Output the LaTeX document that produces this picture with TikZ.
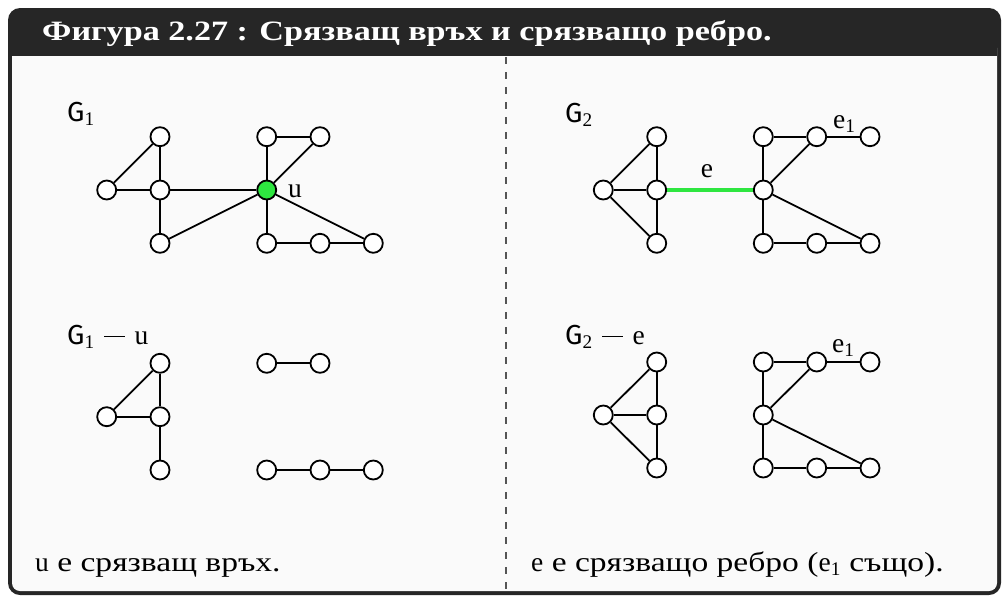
\documentclass[tikz,border=0pt]{standalone}
\usepackage{fontspec}
\setmainfont{Liberation Serif}[FakeStretch=1.22]
\newfontfamily\gfont{Fira Sans}
\newfontfamily\mfont{Liberation Serif}
\newcommand\vG{{\gfont G}}
\newcommand\vu{{\mfont u}}
\newcommand\ve{{\mfont e}}
\newcommand\vsub[1]{\textsubscript{\mfont #1}}
\newcommand\vminus{\hspace{0.35em}\rule[0.26em]{0.75em}{0.045em}\hspace{0.35em}}
\definecolor{framedark}{HTML}{262626}
\definecolor{bodybg}{HTML}{FAFAFA}
\definecolor{gn}{HTML}{2EE640}
\definecolor{divgray}{HTML}{555555}
\tikzset{
  vtx/.style={circle,draw=black,line width=1.8pt,fill=white,minimum size=19pt,inner sep=0pt},
  hot/.style={vtx,fill=gn},
  edge/.style={line width=1.8pt,black},
  hotedge/.style={line width=4.5pt,gn},
  lbl/.style={anchor=base west,inner sep=0pt,font=\fontsize{27.5}{32}\selectfont},
  caption/.style={anchor=base west,inner sep=0pt,font=\fontsize{27.5}{32}\selectfont},
  titletext/.style={anchor=base west,inner sep=0pt,text=white,font=\fontsize{28}{32}\selectfont\bfseries},
  divider/.style={divgray,line width=1.2pt,dash pattern=on 7pt off 8pt}
}
\begin{document}
\begin{tikzpicture}[x=1pt,y=-1pt]
\useasboundingbox (0,0) rectangle (1003,597);
% frame
\fill[framedark,rounded corners=12pt] (8,8) rectangle (1001,595);
\fill[bodybg,rounded corners=8pt] (12,40) rectangle (997,591);
\fill[framedark] (12,30) rectangle (997,56);
\node[titletext] (title) at (42,40) {Фигура 2.27 : Срязващ връх и срязващо ребро.};
\coordinate (divtop) at (506,57);
\coordinate (divbot) at (506,592);
\draw[divider] (divtop) -- (divbot);

% ---------- G1 ----------
\node[lbl] (g1lbl) at (67,121) {\vG\vsub{1}};
\node[vtx] (a1) at (160,136.7) {};
\node[vtx] (b1) at (106.7,190) {};
\node[vtx] (c1) at (160,190) {};
\node[vtx] (d1) at (160,243.3) {};
\node[hot] (u) at (266.7,190) {};
\node[vtx] (t1) at (266.7,136.7) {};
\node[vtx] (t2) at (320,136.7) {};
\node[vtx] (s1) at (266.7,243.3) {};
\node[vtx] (s2) at (320,243.3) {};
\node[vtx] (s3) at (373.3,243.3) {};
\node[lbl] (ulbl) at (288,197) {\vu};
\foreach \x/\y in {b1/a1,a1/c1,b1/c1,c1/d1,c1/u,d1/u,u/t1,t1/t2,u/t2,u/s1,s1/s2,s2/s3,u/s3}
  \draw[edge] (\x) -- (\y);

% ---------- G2 ----------
\node[lbl] (g2lbl) at (565,122) {\vG\vsub{2}};
\node[vtx] (p) at (603.3,190) {};
\node[vtx] (q) at (656.7,136.7) {};
\node[vtx] (r) at (656.7,190) {};
\node[vtx] (w) at (656.7,243.3) {};
\node[vtx] (h) at (763.3,190) {};
\node[vtx] (h1) at (763.3,136.7) {};
\node[vtx] (h2) at (816.7,136.7) {};
\node[vtx] (h3) at (870,136.7) {};
\node[vtx] (k1) at (763.3,243.3) {};
\node[vtx] (k2) at (816.7,243.3) {};
\node[vtx] (k3) at (870,243.3) {};
\draw[hotedge] (r) -- (h);
\node[lbl,anchor=base] (elbl) at (707,177) {\ve};
\node[lbl] (e1lbl) at (833,128) {\ve\vsub{1}};
\foreach \x/\y in {p/q,p/r,p/w,q/r,r/w,h/h1,h1/h2,h/h2,h2/h3,h/k1,k1/k2,k2/k3,h/k3}
  \draw[edge] (\x) -- (\y);

% ---------- G1 - u ----------
\node[lbl] (g1ulbl) at (67,344) {\vG\vsub{1}\vminus\vu};
\node[vtx] (a) at (160,363.3) {};
\node[vtx] (b) at (106.7,416.7) {};
\node[vtx] (c) at (160,416.7) {};
\node[vtx] (d) at (160,470) {};
\node[vtx] (m1) at (266.7,363.3) {};
\node[vtx] (m2) at (320,363.3) {};
\node[vtx] (n1) at (266.7,470) {};
\node[vtx] (n2) at (320,470) {};
\node[vtx] (n3) at (373.3,470) {};
\foreach \x/\y in {b/a,a/c,b/c,c/d,m1/m2,n1/n2,n2/n3}
  \draw[edge] (\x) -- (\y);

% ---------- G2 - e ----------
\node[lbl] (g2elbl) at (565,344) {\vG\vsub{2}\vminus\ve};
\node[vtx] (pp) at (603.3,415) {};
\node[vtx] (qq) at (656.7,362) {};
\node[vtx] (rr) at (656.7,415) {};
\node[vtx] (ww) at (656.7,468) {};
\node[vtx] (hh) at (763.3,415) {};
\node[vtx] (hh1) at (763.3,362) {};
\node[vtx] (hh2) at (816.7,362) {};
\node[vtx] (hh3) at (870,362) {};
\node[vtx] (kk1) at (763.3,468) {};
\node[vtx] (kk2) at (816.7,468) {};
\node[vtx] (kk3) at (870,468) {};
\node[lbl] (e1lblb) at (832,352) {\ve\vsub{1}};
\foreach \x/\y in {pp/qq,pp/rr,pp/ww,qq/rr,rr/ww,hh/hh1,hh1/hh2,hh/hh2,hh2/hh3,hh/kk1,kk1/kk2,kk2/kk3,hh/kk3}
  \draw[edge] (\x) -- (\y);

% ---------- captions ----------
\node[caption] (capl) at (35,571) {\vu{} е срязващ връх.};
\node[caption] (capr) at (531,571) {\ve{} е срязващо ребро (\ve\vsub{1} също).};
\end{tikzpicture}
\end{document}
